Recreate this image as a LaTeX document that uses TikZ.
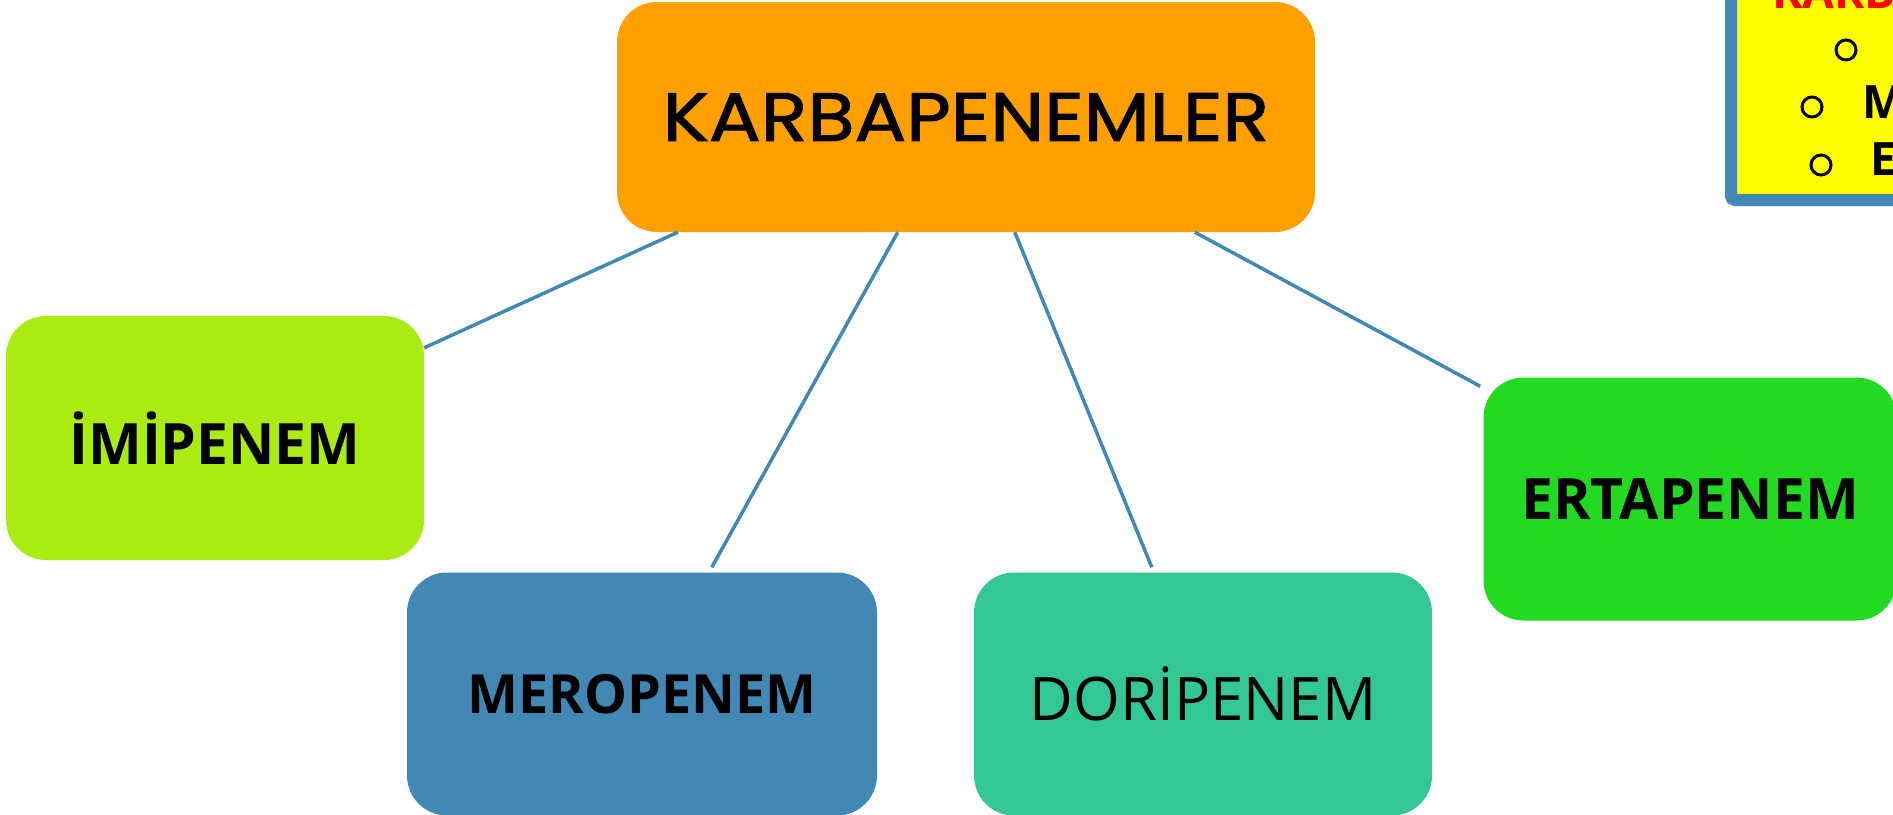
\documentclass[tikz,border=0pt]{standalone}
\usepackage{fontspec}
\setmainfont{Open Sans}
\newfontfamily\titlefont[FakeStretch = 1.13, FakeBold = 1.6]{Poppins}

\definecolor{karborange}{HTML}{FF9F00}
\definecolor{imilime}{HTML}{A9EB12}
\definecolor{ertagreen}{HTML}{22DA22}
\definecolor{linkblue}{HTML}{4189B4}
\definecolor{doriteal}{HTML}{32C794}
\definecolor{noteyellow}{HTML}{FFFF00}

\begin{document}
\begin{tikzpicture}[x = 1pt, y = -1pt,
    drug/.style = {rounded corners = 40pt, inner sep = 0pt, minimum height = 243pt,
      font = \fontsize{57pt}{68pt}\selectfont\bfseries},
    link/.style = {draw = linkblue, line width = 3.5pt},
    bullet/.style = {circle, draw = black, line width = 3pt, minimum size = 20pt, inner sep = 0pt},
    notetext/.style = {anchor = base west, inner sep = 0pt, font = \fontsize{46pt}{54pt}\selectfont\bfseries}]
    \useasboundingbox (0, 0) rectangle (1893, 814);
    \clip (0, 0) rectangle (1893, 814);
    \node [drug, fill = karborange, minimum width = 698pt, minimum height = 230pt,
      font = \titlefont\fontsize{68pt}{80pt}\selectfont] (karb) at (966, 117) {KARBAPENEMLER};
    \node [drug, fill = imilime, minimum width = 418pt, minimum height = 244pt] (imi) at (215, 438) {İMİPENEM};
    \node [drug, fill = linkblue, minimum width = 470pt, font = \fontsize{54pt}{66pt}\selectfont\bfseries] (mero) at (642, 694) {MEROPENEM};
    \node [drug, fill = doriteal, minimum width = 458pt, font = \fontsize{60pt}{72pt}\selectfont] (dori) at (1203, 694) {DORİPENEM};
    \node [drug, fill = ertagreen, minimum width = 413pt] (erta) at (1690, 499) {ERTAPENEM};
    \draw [link] ([xshift = 61pt] karb.south west) -- ([yshift = -32pt] imi.north east);
    \draw [link] ([xshift = 281pt] karb.south west) -- ([xshift = 305pt, yshift = 5pt] mero.north west);
    \draw [link] ([xshift = 398pt] karb.south west) -- ([xshift = 178pt, yshift = 5pt] dori.north west);
    \draw [link] ([xshift = 578pt] karb.south west) -- ([xshift = -3pt, yshift = -9pt] erta.north west);
    \node [draw = linkblue, fill = noteyellow, line width = 12pt, rounded corners = 4pt, outer sep = 0pt,
      minimum width = 240pt, minimum height = 260pt, anchor = south west] (note) at (1731, 200) {};
    \node [notetext, text = red] (notetitle) at (1772, 8) {KARB};
    \node [bullet] (b1) at (1846, 50) {};
    \node [bullet] (b2) at (1812, 107) {};
    \node [bullet] (b3) at (1821, 165) {};
    \node [notetext] (m) at (1862, 118) {M};
    \node [notetext] (e) at (1870, 175) {E};
  \end{tikzpicture}
\end{document}
